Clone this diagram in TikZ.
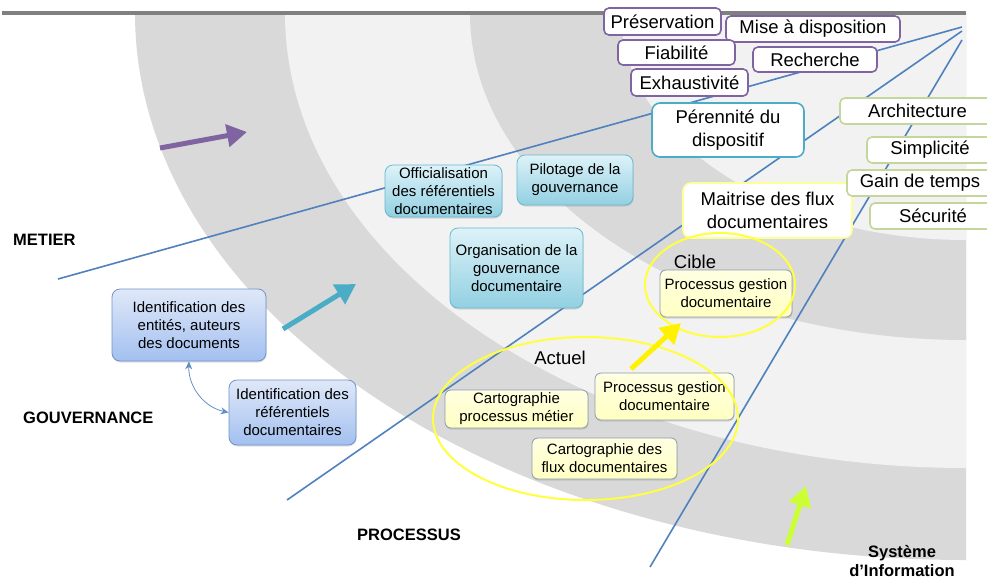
\documentclass[tikz,border=0pt]{standalone}
\usepackage{fontspec}
\setmainfont{Liberation Sans}
\usetikzlibrary{arrows.meta,shadows}
\definecolor{banddark}{HTML}{D9D9D9}
\definecolor{bandlight}{HTML}{F2F2F2}
\definecolor{axisblue}{HTML}{4F81BD}
\definecolor{metierviolet}{HTML}{8064A2}
\definecolor{gouvteal}{HTML}{4BACC6}
\definecolor{sigreen}{HTML}{C3D69B}
\definecolor{fluxyellow}{HTML}{FFFF99}
\definecolor{ringyellow}{HTML}{FFFF40}
\definecolor{limearrow}{HTML}{CCFF33}
\definecolor{bluetop}{HTML}{DFE8F8}
\definecolor{bluebottom}{HTML}{A3C0F0}
\definecolor{blueedge}{HTML}{6F93CB}
\definecolor{cyantop}{HTML}{DDF2F8}
\definecolor{cyanbottom}{HTML}{92D0E2}
\definecolor{cyanedge}{HTML}{67B9CF}
\definecolor{yellowtop}{HTML}{FFFFE2}
\definecolor{yellowbottom}{HTML}{FFFFC2}
\definecolor{yellowedge}{HTML}{8C9BAE}
\tikzset{
	big label/.style={font=\fontsize{18.5}{23.5}\selectfont, align=center, inner sep=0pt, rounded corners=5pt, fill=white, line width=1.6pt},
	goal/.style={big label, draw=metierviolet},
	si goal/.style={big label, draw=sigreen},
	small box/.style={font=\fontsize{15}{18}\selectfont, align=center, inner sep=0pt, rounded corners=8pt, line width=0.8pt,
		drop shadow={opacity=0.25, shadow xshift=0.5pt, shadow yshift=-1.5pt}},
	blue box/.style={small box, draw=blueedge, top color=bluetop, bottom color=bluebottom},
	cyan box/.style={small box, draw=cyanedge, top color=cyantop, bottom color=cyanbottom},
	yellow box/.style={small box, rounded corners=6pt, draw=yellowedge, top color=yellowtop, bottom color=yellowbottom},
	section/.style={font=\fontsize{16.5}{19.5}\selectfont\bfseries, align=center, inner sep=0pt},
	state/.style={font=\fontsize{18.5}{22}\selectfont, inner sep=0pt},
	axis/.style={draw=axisblue, line width=1.6pt},
	ring/.style={draw=ringyellow, line width=2pt},
	fat arrow/.style={line width=5pt, -{Triangle[length=20pt,width=22pt]}},
	link/.style={draw=axisblue!90, line width=0.8pt, {Stealth[length=8pt,width=7pt]}-{Stealth[length=8pt,width=7pt]}},
}
\begin{document}
\begin{tikzpicture}[x=1pt,y=-1pt]
	\useasboundingbox (0,0) rectangle (987,579);
	\clip (0,0) rectangle (987,579);
	\begin{scope}
		\clip (0,13) rectangle (966,579);
		\fill[banddark] (966,13) ellipse (831 and 547);
		\fill[bandlight] (966,13) ellipse (681 and 455);
		\fill[banddark] (966,13) ellipse (496 and 327);
		\fill[bandlight] (966,13) ellipse (345 and 227);
	\end{scope}
	\draw[line width=4pt, gray] (2,13) -- (966,13);
	\coordinate (m0) at (58,279);
	\coordinate (m1) at (962,27);
	\coordinate (g0) at (287,500);
	\coordinate (g1) at (962,31);
	\coordinate (p0) at (650,567);
	\coordinate (p1) at (962,40);
	\draw[axis] (m0) -- (m1);
	\draw[axis] (g0) -- (g1);
	\draw[axis] (p0) -- (p1);
	\node[section, anchor=west] (metier) at (13,240) {METIER};
	\node[section, anchor=west] (gouv) at (23,418) {GOUVERNANCE};
	\node[section, anchor=west] (proc) at (357,535) {PROCESSUS};
	\node[section] (si) at (902,561) {Système\\d’Information};
	\node[goal, minimum width=117pt, minimum height=27pt] (pres) at (662.5,21.5) {Préservation};
	\node[goal, minimum width=174pt, minimum height=26pt] (mise) at (813,29) {Mise à disposition};
	\node[goal, minimum width=117pt, minimum height=25pt] (fiab) at (676.5,52.5) {Fiabilité};
	\node[goal, minimum width=124pt, minimum height=25pt] (rech) at (815,59.5) {Recherche};
	\node[goal, minimum width=117pt, minimum height=27pt] (exha) at (689.5,82.5) {Exhaustivité};
	\node[big label, draw=gouvteal, rounded corners=8pt, minimum width=152pt, minimum height=54pt] (peren) at (728,130) {Pérennité du\\dispositif};
	\node[big label, draw=fluxyellow, rounded corners=8pt, minimum width=169pt, minimum height=55pt] (flux) at (767.5,210.5) {Maitrise des flux\\documentaires};
	\node[si goal, minimum width=155pt, minimum height=26pt] (archi) at (917.5,111) {Architecture};
	\node[si goal, minimum width=126pt, minimum height=26pt] (simpl) at (930,150) {Simplicité};
	\node[si goal, minimum width=146pt, minimum height=26pt] (gain) at (920,183) {Gain de temps};
	\node[si goal, minimum width=126pt, minimum height=26pt] (secu) at (933,216) {Sécurité};
	\node[blue box, minimum width=154pt, minimum height=72pt] (ent) at (189,325) {Identification des\\entités, auteurs\\des documents};
	\node[blue box, minimum width=127pt, minimum height=65pt] (refd) at (292.5,412.5) {Identification des\\référentiels\\documentaires};
	\draw[link] (ent.south) to[bend right=40] (refd.west);
	\node[cyan box, minimum width=117pt, minimum height=52pt] (offi) at (443.5,191) {Officialisation\\des référentiels\\documentaires};
	\node[cyan box, minimum width=116pt, minimum height=50pt] (pilo) at (575,180) {Pilotage de la\\gouvernance};
	\node[cyan box, minimum width=133pt, minimum height=80pt] (orga) at (516.5,268) {Organisation de la\\gouvernance\\documentaire};
	\node[yellow box, minimum width=132pt, minimum height=47pt] (cibp) at (726,293.5) {Processus gestion\\documentaire};
	\node[yellow box, minimum width=139pt, minimum height=47pt] (actp) at (664.5,396.5) {Processus gestion\\documentaire};
	\node[yellow box, minimum width=143pt, minimum height=38pt] (carp) at (516.5,409) {Cartographie\\processus métier};
	\node[yellow box, minimum width=145pt, minimum height=41pt] (carf) at (604.5,458.5) {Cartographie des\\flux documentaires};
	\node[state] (cible) at (695,262) {Cible};
	\node[state] (actuel) at (560,358) {Actuel};
	\draw[ring] (720,285) ellipse (75 and 52);
	\draw[ring] (585.5,418.5) ellipse (152.5 and 81.5);
	\coordinate (a1) at (160,148);
	\coordinate (b1) at (247,132);
	\coordinate (a2) at (283,329);
	\coordinate (b2) at (356,284);
	\coordinate (a3) at (631,369);
	\coordinate (b3) at (681,323);
	\coordinate (a4) at (787,545);
	\coordinate (b4) at (806,486);
	\draw[fat arrow, metierviolet] (a1) -- (b1);
	\draw[fat arrow, gouvteal] (a2) -- (b2);
	\draw[fat arrow, yellow] (a3) -- (b3);
	\draw[fat arrow, limearrow] (a4) -- (b4);
\end{tikzpicture}
\end{document}
